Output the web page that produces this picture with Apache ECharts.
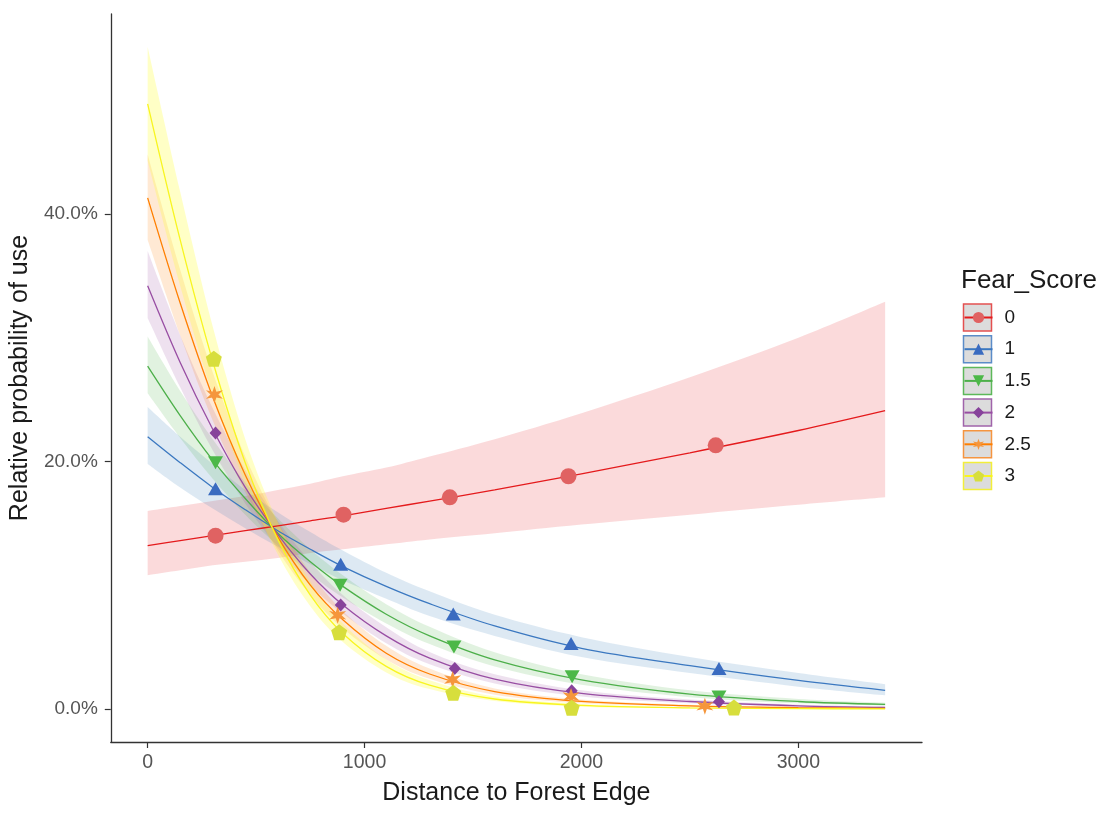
<!DOCTYPE html>
<html>
<head>
<meta charset="utf-8">
<script src="https://cdn.jsdelivr.net/npm/echarts@6/dist/echarts.min.js"></script>
<style>
html,body{margin:0;padding:0;background:#fff;}
#chart{width:1102px;height:814px;}
</style>
</head>
<body>
<div id="chart"></div>
<script>
// ---- data (percent) ----
const groupNames = ['0', '1', '1.5', '2', '2.5', '3'];
const xTicks = [0, 1000, 2000, 3000];
const yTicks = [0, 20, 40];
const xs = [0, 150, 300, 450, 600, 750, 900, 1100, 1300, 1600, 2000, 2500, 3000, 3400];

const fit0 = [13.2, 13.6, 14.0, 14.4, 14.8, 15.2, 15.6, 16.2, 16.8, 17.7, 19.0, 20.7, 22.5, 24.1];
const hi0  = [16.0, 16.4, 16.8, 17.2, 17.7, 18.2, 18.8, 19.5, 20.4, 21.8, 23.9, 26.8, 30.0, 32.9];
const lo0  = [10.8, 11.2, 11.6, 11.9, 12.2, 12.6, 12.9, 13.3, 13.7, 14.2, 14.9, 15.7, 16.5, 17.1];

const fit1 = [22.0, 19.9, 17.9, 16.1, 14.4, 12.9, 11.5, 9.9, 8.5, 6.7, 4.9, 3.5, 2.3, 1.5];
const hi1  = [24.4, 22.0, 19.8, 17.7, 15.9, 14.3, 12.8, 11.0, 9.5, 7.6, 5.8, 4.2, 2.9, 2.0];
const lo1  = [19.8, 17.9, 16.2, 14.6, 13.1, 11.7, 10.4, 8.9, 7.5, 5.9, 4.2, 2.9, 1.8, 1.1];

const fit15 = [27.7, 23.7, 20.1, 17.0, 14.2, 11.9, 9.9, 7.65, 5.9, 3.96, 2.35, 1.2, 0.6, 0.36];
const hi15  = [30.1, 25.7, 21.8, 18.3, 15.4, 12.9, 10.8, 8.46, 6.63, 4.57, 2.8, 1.5, 0.8, 0.5];
const lo15  = [25.5, 21.9, 18.6, 15.7, 13.2, 10.9, 9.0, 6.9, 5.24, 3.43, 1.95, 0.95, 0.45, 0.25];

const fit2 = [34.2, 28.0, 22.6, 17.9, 14.1, 10.9, 8.4, 5.9, 4.1, 2.4, 1.25, 0.6, 0.25, 0.12];
const hi2  = [37.0, 30.2, 24.3, 19.3, 15.2, 11.9, 9.2, 6.6, 4.6, 2.8, 1.5, 0.75, 0.35, 0.2];
const lo2  = [31.6, 26.0, 20.9, 16.6, 13.0, 10.0, 7.7, 5.3, 3.6, 2.05, 1.0, 0.45, 0.17, 0.07];

const fit25 = [41.3, 32.8, 25.2, 18.9, 13.9, 10.0, 7.2, 4.5, 2.82, 1.4, 0.6, 0.25, 0.1, 0.05];
const hi25  = [44.8, 35.5, 27.2, 20.4, 15.1, 11.0, 7.9, 5.1, 3.26, 1.65, 0.75, 0.33, 0.15, 0.08];
const lo25  = [37.9, 30.2, 23.3, 17.5, 12.8, 9.2, 6.5, 4.0, 2.43, 1.15, 0.45, 0.18, 0.06, 0.02];

const fit3 = [48.9, 37.9, 28.1, 19.9, 13.7, 9.2, 6.1, 3.44, 1.92, 0.8, 0.28, 0.08, 0.02, 0.01];
const hi3  = [53.5, 41.8, 30.9, 21.8, 15.1, 10.3, 6.9, 4.0, 2.32, 1.0, 0.4, 0.13, 0.04, 0.02];
const lo3  = [44.3, 34.2, 25.4, 18.2, 12.5, 8.3, 5.4, 2.95, 1.6, 0.63, 0.18, 0.04, 0.01, 0.0];

// observed points
const ptsX0 = [313, 903, 1393, 1940, 2619];
const ptsY0 = [14.0, 15.7, 17.1, 18.8, 21.3];
const ptsX1 = [313, 890, 1409, 1952, 2634];
const ptsY1 = [17.8, 11.7, 7.66, 5.29, 3.27];
const ptsX15 = [313, 887, 1412, 1957, 2634];
const ptsY15 = [19.9, 10.0, 5.0, 2.59, 0.97];
const ptsX2 = [313, 890, 1416, 1955, 2634];
const ptsY2 = [22.3, 8.4, 3.27, 1.46, 0.57];
const ptsX25 = [308, 876, 1406, 1952, 2569];
const ptsY25 = [25.4, 7.57, 2.38, 1.0, 0.22];
const ptsX3 = [305, 883, 1409, 1955, 2703];
const ptsY3 = [28.3, 6.2, 1.3, 0.1, 0.11];

// ---- styling ----
const lineColors = ['#E41A1C', '#3B78C0', '#4DAF4A', '#984EA3', '#FF7F00', '#F8F520'];
const ptColors = ['#E06262', '#3A6BC0', '#4CB848', '#87439B', '#F5963C', '#D7DE3C'];
const boxColors = ['#E45050', '#5B8CC8', '#5DB85A', '#A064AA', '#F59540', '#F2EE3A'];
const bandColors = ['rgba(228,26,28,0.16)', 'rgba(55,126,184,0.17)', 'rgba(77,175,74,0.17)',
                    'rgba(152,78,163,0.17)', 'rgba(255,127,0,0.17)', 'rgba(255,255,51,0.28)'];
const star6 = 'path://M10,0 L12,6.54 L18.66,5 L14,10 L18.66,15 L12,13.46 L10,20 L8,13.46 L1.34,15 L6,10 L1.34,5 L8,6.54 Z';
const pentagon = 'path://M10,0 L19.51,6.91 L15.88,18.09 L4.12,18.09 L0.49,6.91 Z';
const invTri = 'path://M0,0 L10,0 L5,9 Z';
const symbols = ['circle', 'triangle', invTri, 'diamond', star6, pentagon];
const symSizes = [16, [15, 13], [15, 13], [12, 13], 17, 16];

const fits = [fit0, fit1, fit15, fit2, fit25, fit3];
const his = [hi0, hi1, hi15, hi2, hi25, hi3];
const los = [lo0, lo1, lo15, lo2, lo25, lo3];
const ptsXs = [ptsX0, ptsX1, ptsX15, ptsX2, ptsX25, ptsX3];
const ptsYs = [ptsY0, ptsY1, ptsY15, ptsY2, ptsY25, ptsY3];

const FONT = 'Liberation Sans, Arial, sans-serif';

// Catmull-Rom cubic segments through pixel points
function crSegs(p) {
  let s = '';
  for (let i = 0; i < p.length - 1; i++) {
    const p0 = p[i - 1] || p[i], p1 = p[i], p2 = p[i + 1], p3 = p[i + 2] || p[i + 1];
    const c1 = [p1[0] + (p2[0] - p0[0]) / 6, p1[1] + (p2[1] - p0[1]) / 6];
    const c2 = [p2[0] - (p3[0] - p1[0]) / 6, p2[1] - (p3[1] - p1[1]) / 6];
    s += ' C' + c1[0] + ',' + c1[1] + ' ' + c2[0] + ',' + c2[1] + ' ' + p2[0] + ',' + p2[1];
  }
  return s;
}

const series = [];
// confidence ribbons
groupNames.forEach((g, i) => {
  series.push({
    name: 'ribbon_' + g, type: 'custom', silent: true, z: 1, clip: true,
    data: [[xs[0], los[i][0]]],
    renderItem: function (params, api) {
      const up = xs.map((x, k) => api.coord([x, his[i][k]]));
      const dn = xs.map((x, k) => api.coord([x, los[i][k]])).reverse();
      let d = 'M' + up[0][0] + ',' + up[0][1] + crSegs(up) +
              ' L' + dn[0][0] + ',' + dn[0][1] + crSegs(dn) + ' Z';
      return { type: 'path', shape: { pathData: d }, style: { fill: bandColors[i], stroke: null } };
    }
  });
});
// fitted lines
groupNames.forEach((g, i) => {
  series.push({
    name: g, type: 'line', smooth: 0.33, z: 3,
    symbol: symbols[i], showSymbol: false, symbolSize: 12,
    color: ptColors[i],
    lineStyle: { color: lineColors[i], width: 1.3 },
    data: xs.map((x, k) => [x, fits[i][k]])
  });
});
// points
groupNames.forEach((g, i) => {
  series.push({
    name: g, type: 'scatter', z: 4,
    symbol: symbols[i], symbolSize: symSizes[i],
    itemStyle: { color: ptColors[i], opacity: 1 },
    data: ptsXs[i].map((x, k) => [x, ptsYs[i][k]])
  });
});

// legend key boxes
const legTop = 304;
const legPitch = 31.7;
const graphics = groupNames.map((g, i) => ({
  type: 'rect', z: 0,
  shape: { x: 963.5, y: legTop + i * legPitch, width: 28, height: 27 },
  style: { fill: '#DCDCDC', stroke: boxColors[i], lineWidth: 1.5 }
}));

const option = {
  animation: false,
  backgroundColor: '#fff',
  title: {
    text: 'Fear_Score', left: 961, top: 268, padding: 0,
    textStyle: { fontFamily: FONT, fontSize: 26, fontWeight: 'normal', color: '#1a1a1a' }
  },
  legend: {
    data: groupNames, orient: 'vertical', left: 963.5, top: legTop + 13.5 - 7 - 5.5,
    itemWidth: 28, itemHeight: 14, itemGap: legPitch - 25, padding: 0,
    textStyle: { fontFamily: FONT, fontSize: 19, color: '#1a1a1a', lineHeight: 19, padding: [6, 0, 0, 7] },
    selectedMode: false
  },
  graphic: { elements: graphics },
  grid: { left: 110, right: 180, top: 14, bottom: 72, containLabel: false },
  xAxis: {
    type: 'value', min: -170, max: 3570,
    name: 'Distance to Forest Edge', nameLocation: 'middle', nameGap: 39,
    nameTextStyle: { fontFamily: FONT, fontSize: 25, color: '#1a1a1a' },
    axisLine: { show: true, onZero: false, lineStyle: { color: '#333', width: 1.3 } },
    axisTick: { show: true, length: 6, customValues: xTicks, lineStyle: { color: '#333', width: 1.2 } },
    axisLabel: { customValues: xTicks, margin: 11, fontFamily: FONT, fontSize: 19.5, color: '#555',
      formatter: v => String(v) },
    splitLine: { show: false }
  },
  yAxis: {
    type: 'value', min: -2.675, max: 56.16,
    name: 'Relative probability of use', nameLocation: 'middle', nameGap: 58, nameRotate: 90,
    nameTextStyle: { fontFamily: FONT, fontSize: 25, color: '#1a1a1a' },
    axisLine: { show: true, onZero: false, lineStyle: { color: '#333', width: 1.3 } },
    axisTick: { show: true, length: 6, customValues: yTicks, lineStyle: { color: '#333', width: 1.2 } },
    axisLabel: { customValues: yTicks, margin: 13, fontFamily: FONT, fontSize: 19, color: '#555',
      formatter: v => v.toFixed(1) + '%' },
    splitLine: { show: false }
  },
  series: series
};

const chart = echarts.init(document.getElementById('chart'), null, { renderer: 'canvas' });
chart.setOption(option);
</script>
</body>
</html>
